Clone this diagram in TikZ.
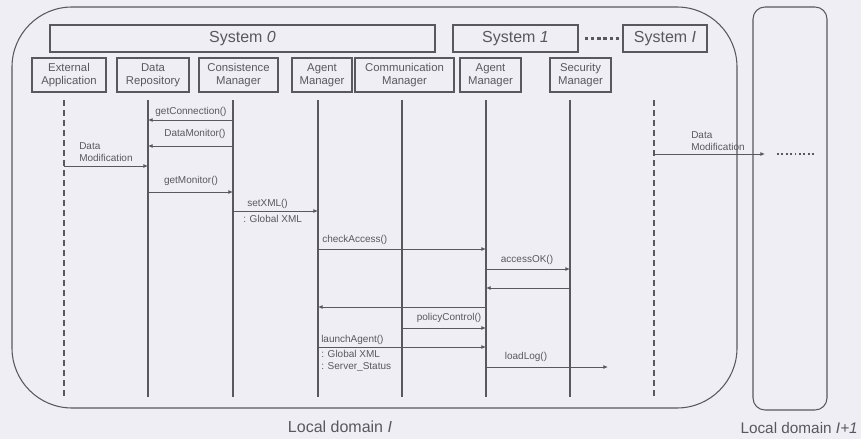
\documentclass[tikz,border=0pt]{standalone}
\usepackage{fontspec}
\setmainfont{Liberation Sans}
\usetikzlibrary{arrows.meta}
\definecolor{paper}{RGB}{238,238,244}
\definecolor{ink}{RGB}{88,88,94}
\begin{document}
\begin{tikzpicture}[x=0.75pt,y=0.75pt,yscale=-1,xscale=1,color=ink,
  head/.style={draw, line width=1pt, minimum height=25.5pt, inner sep=0pt, align=center, font=\fontsize{8.5}{9.5}\selectfont},
  sysbox/.style={draw, line width=1pt, minimum height=20.25pt, inner sep=0pt, font=\fontsize{12}{14}\selectfont},
  life/.style={line width=1.4pt},
  gap/.style={line width=2pt, dash pattern=on 4.5pt off 3pt},
  msg/.style={line width=0.7pt, -{Latex[length=3.5pt,width=3pt]}},
  lbl/.style={font=\fontsize{7.5}{9}\selectfont, inner sep=0pt, align=left}]
\fill[paper] (0,0) rectangle (861,439);

% domains
\draw[line width=0.8pt, rounded corners=45pt] (12,7) rectangle (737,408);
\draw[line width=0.8pt, rounded corners=9pt] (753,7) rectangle (827,410);
\node[font=\fontsize{12}{14}\selectfont] (dom) at (340,427) {Local domain \textit{I}};
\node[font=\fontsize{11.5}{14}\selectfont, anchor=east, inner sep=0pt] (domnext) at (858,428) {Local domain \textit{I+1}};

% systems
\node[sysbox, minimum width=288.75pt] (sys0) at (242.5,38.5) {System \textit{0}};
\node[sysbox, minimum width=93.75pt] (sys1) at (515.5,38.5) {System \textit{1}};
\node[sysbox, minimum width=63pt] (sysI) at (665,38.5) {System \textit{I}};
\draw[line width=2pt, dash pattern=on 2.5pt off 2.2pt] (sys1.east) ++(6,0) -- ([xshift=-2pt]sysI.west);

% heads
\node[head, minimum width=55.5pt] (ea) at (69,75) {External\\Application};
\node[head, minimum width=54pt] (dr) at (153,75) {Data\\Repository};
\node[head, minimum width=59.25pt] (cm) at (238.5,75) {Consistence\\Manager};
\node[head, minimum width=45pt] (am) at (322,75) {Agent\\Manager};
\node[head, minimum width=74.25pt] (com) at (404.5,75) {Communication\\Manager};
\node[head, minimum width=45.75pt] (am2) at (490.5,75) {Agent\\Manager};
\node[head, minimum width=45.75pt] (sm) at (580.5,75) {Security\\Manager};

% lifelines
\coordinate (eaL) at (64,100);
\coordinate (drL) at (148,100);
\coordinate (cmL) at (233,100);
\coordinate (amL) at (318,100);
\coordinate (comL) at (402,100);
\coordinate (am2L) at (486,100);
\coordinate (smL) at (570,100);
\coordinate (nxL) at (654,100);
\coordinate (bot) at (0,397);
\draw[gap] (eaL) -- (eaL |- bot);
\draw[life] (drL) -- (drL |- bot);
\draw[life] (cmL) -- (cmL |- bot);
\draw[life] (amL) -- (amL |- bot);
\draw[life] (comL) -- (comL |- bot);
\draw[life] (am2L) -- (am2L |- bot);
\draw[life] (smL) -- (smL |- bot);
\draw[gap] (nxL) -- (nxL |- bot);

% messages
\draw[msg] (cmL |- 0,120) -- (drL |- 0,120);
\node[lbl] (getconn) at (191,112) {getConnection()};
\draw[msg] (cmL |- 0,146) -- (drL |- 0,146);
\node[lbl] (datamon) at (195,134) {DataMonitor()};
\draw[msg] (eaL |- 0,166) -- (drL |- 0,166);
\node[lbl, anchor=west] (datamod) at (79,152) {Data\\Modification};
\draw[msg] (drL |- 0,192) -- (cmL |- 0,192);
\node[lbl] (getmon) at (191,181) {getMonitor()};
\draw[msg] (cmL |- 0,211) -- (amL |- 0,211);
\node[lbl, anchor=west] (setxml) at (247,204) {setXML()};
\node[lbl, anchor=west] (setxmlarg) at (243,219) {: Global XML};
\draw[msg] (amL |- 0,249) -- (am2L |- 0,249);
\node[lbl, anchor=west] (check) at (322,240) {checkAccess()};
\draw[msg] (am2L |- 0,269) -- (smL |- 0,269);
\node[lbl] (access) at (527,260) {accessOK()};
\draw[msg] (smL |- 0,288) -- (am2L |- 0,288);
\draw[msg] (am2L |- 0,307) -- (amL |- 0,307);
\draw[msg] (comL |- 0,328) -- (am2L |- 0,328);
\node[lbl] (policy) at (449,318) {policyControl()};
\draw[msg] (amL |- 0,347) -- (am2L |- 0,347);
\node[lbl, anchor=west] (launch) at (321,340) {launchAgent()};
\node[lbl, anchor=west] (launcharg) at (321,361) {: Global XML\\: Server\_Status};
\coordinate (logend) at (608,367);
\draw[msg] (am2L |- logend) -- (logend);
\node[lbl] (loadlog) at (526,357) {loadLog()};

% to next domain
\coordinate (outend) at (765,154);
\draw[msg] (nxL |- outend) -- (outend);
\node[lbl, anchor=west] (datamodout) at (691,141) {Data\\Modification};
\draw[line width=1pt, dash pattern=on 1.3pt off 2pt] (777,154) -- (815,154);
\end{tikzpicture}
\end{document}
